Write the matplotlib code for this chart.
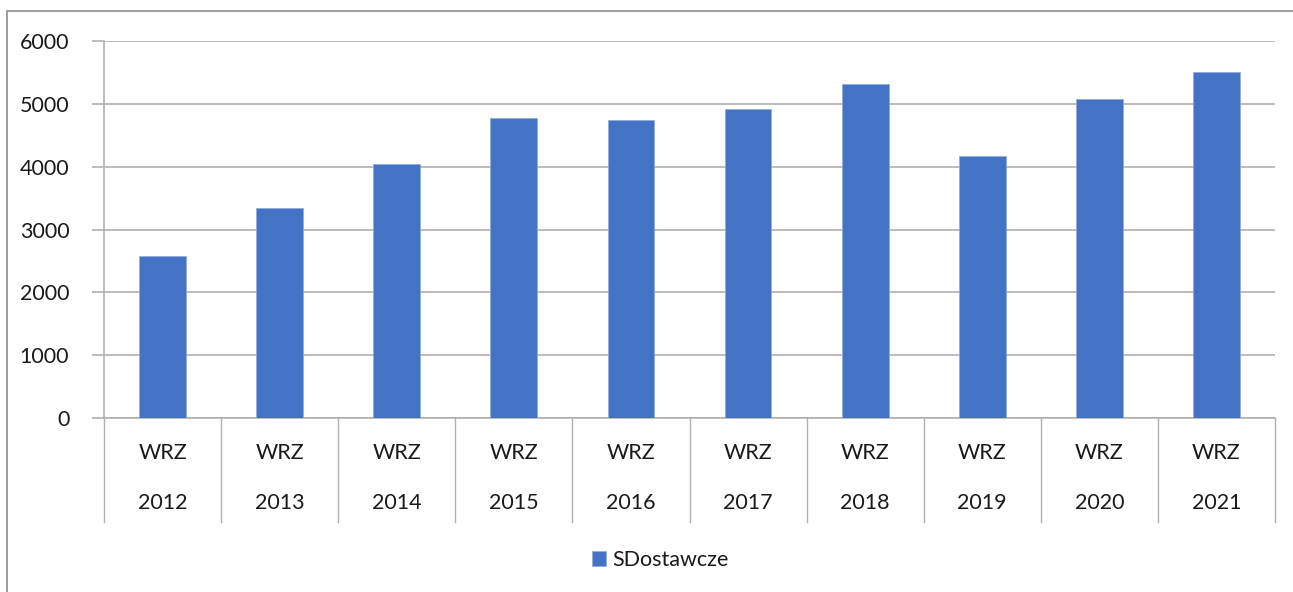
import matplotlib
matplotlib.use("Agg")
import matplotlib.pyplot as plt
from matplotlib.patches import Rectangle
from matplotlib.lines import Line2D
import matplotlib.transforms as mtransforms

categories = ["2012", "2013", "2014", "2015", "2016", "2017", "2018", "2019", "2020", "2021"]
prefix = "WRZ"
values = [2580, 3335, 4050, 4770, 4745, 4910, 5315, 4175, 5070, 5505]
series_name = "SDostawcze"
yticks = [0, 1000, 2000, 3000, 4000, 5000, 6000]

plt.rcParams['font.family'] = ['Lato', 'DejaVu Sans']

W, H = 1293, 592
fig = plt.figure(figsize=(W / 100, H / 100), dpi=100)

# outer chart frame
fig.patches.append(Rectangle((7 / W, -0.1), 1.2, 1 - 11 / H + 0.1, transform=fig.transFigure,
                             fill=False, edgecolor='#8c8c8c', linewidth=1.2))

left, right, top, bottom = 104, 1275, 41, 418
ax = fig.add_axes([left / W, 1 - bottom / H, (right - left) / W, (bottom - top) / H])

FS = 15.5
x = list(range(len(categories)))
bars = ax.bar(x, values, width=0.4, color='#4472C4', edgecolor='#8faadc', linewidth=0.5,
              label=series_name, zorder=3)

ax.set_xlim(-0.5, len(categories) - 0.5)
ax.set_ylim(0, 6000)
ax.set_yticks(yticks)
ax.set_yticklabels([str(v) for v in yticks], fontsize=FS, color='#1a1a1a')
ax.yaxis.grid(True, color='#b0b0b0', linewidth=1.2, zorder=0)
ax.tick_params(axis='y', length=9, width=1.2, color='#b0b0b0', pad=16)
ax.set_xticks([])
for s in ['top', 'right']:
    ax.spines[s].set_visible(False)
ax.spines['left'].set_color('#b0b0b0')
ax.spines['left'].set_linewidth(1.2)
ax.spines['bottom'].set_color('#b0b0b0')
ax.spines['bottom'].set_linewidth(1.2)

trans = mtransforms.blended_transform_factory(ax.transData, ax.transAxes)
ax_h = bottom - top
sep_y = -(522 - bottom) / ax_h
for i in range(len(categories) + 1):
    ax.add_line(Line2D([i - 0.5, i - 0.5], [0, sep_y], transform=trans, color='#b0b0b0',
                       linewidth=1.0, clip_on=False))
for i, c in enumerate(categories):
    ax.text(i, -(453 - bottom) / ax_h, prefix, transform=trans, ha='center', va='center',
            fontsize=FS, color='#1a1a1a')
    ax.text(i, -(503 - bottom) / ax_h, c, transform=trans, ha='center', va='center',
            fontsize=FS, color='#1a1a1a')

fig.legend(handles=[bars], labels=[series_name], loc='center',
           bbox_to_anchor=(660 / W, 1 - 560 / H), frameon=False, fontsize=FS,
           handlelength=0.65, handleheight=0.65, handletextpad=0.3, labelcolor='#1a1a1a')

fig.savefig("out.png", dpi=100)
